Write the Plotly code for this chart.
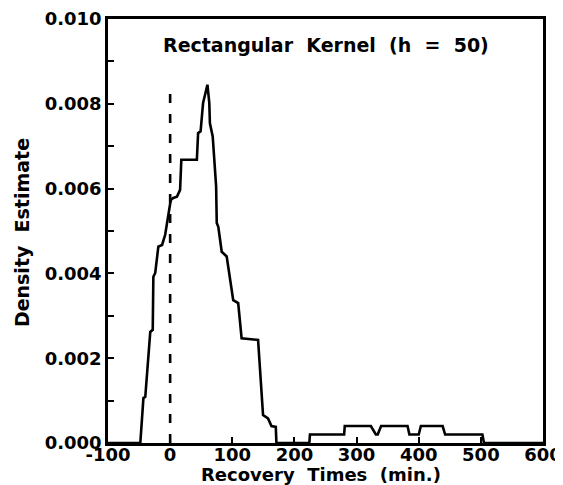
import plotly.graph_objects as go

# Density estimate (recovery time in minutes, density)
recovery_x = [-100, -48, -43, -40, -32, -28, -27, -24, -19, -13, -8, -5, -1, 1, 5, 11,
              16, 18, 43, 45, 49, 51, 53, 60, 63, 64, 68.5, 74, 75, 77.5, 83, 91, 96,
              101.5, 109.5, 115, 141.5, 144, 149.5, 157.5, 163, 170, 171,
              224, 225, 280, 281, 323, 331, 334, 339.5, 382, 385, 400, 403.5,
              438.5, 442.5, 502.5, 505, 600]
density_y = [0, 0, 0.00106, 0.00109, 0.00262, 0.00267, 0.00392, 0.00401, 0.00463,
             0.00467, 0.00491, 0.00519, 0.00546, 0.00573, 0.00578, 0.00581,
             0.00597, 0.00668, 0.00668, 0.00731, 0.00735, 0.00778, 0.00802, 0.00845,
             0.00802, 0.00754, 0.00723, 0.00605, 0.00519, 0.0051, 0.00451, 0.0044,
             0.00392, 0.00337, 0.0033, 0.00247, 0.00243, 0.0018, 0.00066, 0.00058,
             0.0004, 0.00038, 0,
             0, 0.0002, 0.0002, 0.0004, 0.0004, 0.0002, 0.0002, 0.0004, 0.0004,
             0.0002, 0.0002, 0.0004, 0.0004, 0.0002, 0.0002, 0, 0]

ref_x = [0, 0]
ref_y = [0, 0.0083]

x_ticks = [-100, 0, 100, 200, 300, 400, 500, 600]
x_tick_labels = ["-100", "0", "100", "200", "300", "400", "500", "600"]
y_ticks = [0.000, 0.002, 0.004, 0.006, 0.008, 0.010]
y_tick_labels = ["0.000", "0.002", "0.004", "0.006", "0.008", "0.010"]

title_text = "Rectangular  Kernel  (h  =  50)"
x_title = "Recovery  Times  (min.)"
y_title = "Density  Estimate"

FONT = "DejaVu Sans"

fig = go.Figure()
fig.add_trace(go.Scatter(x=recovery_x, y=density_y, mode="lines",
                         line=dict(color="black", width=2.6), showlegend=False,
                         hoverinfo="skip"))
fig.add_trace(go.Scatter(x=ref_x, y=ref_y, mode="lines",
                         line=dict(color="black", width=2.6, dash="9px,11px"),
                         showlegend=False, hoverinfo="skip"))

fig.add_annotation(x=0.5, y=0.939, xref="paper", yref="paper", text=title_text,
                   showarrow=False, xanchor="center", yanchor="middle",
                   font=dict(family=FONT, size=19, color="black", weight="bold"))
fig.add_annotation(x=0.49, y=0, xref="paper", yref="paper", text=x_title,
                   showarrow=False, xanchor="center", yanchor="middle", yshift=-31,
                   font=dict(family=FONT, size=18, color="black", weight="bold"))
fig.add_annotation(x=0, y=0.495, xref="paper", yref="paper", text=y_title,
                   showarrow=False, xanchor="center", yanchor="middle", xshift=-86,
                   textangle=-90,
                   font=dict(family=FONT, size=19, color="black", weight="bold"))

# The page body adds an 8px offset, so the figure is 8px smaller and margins compensate.
fig.update_layout(
    width=555, height=477,
    margin=dict(l=100, r=20, t=11, b=42),
    paper_bgcolor="white", plot_bgcolor="white",
    font=dict(family=FONT, size=17, color="black", weight="bold"),
    xaxis=dict(range=[-100, 600], tickvals=x_ticks, ticktext=x_tick_labels,
               ticks="inside", ticklen=6, tickwidth=2, tickcolor="black",
               ticklabelstandoff=-6,
               showline=True, linecolor="black", linewidth=2.5, mirror=True,
               showgrid=False, zeroline=False, automargin=False,
               tickfont=dict(family=FONT, size=18, weight="bold")),
    yaxis=dict(range=[0, 0.010], tickvals=y_ticks, ticktext=y_tick_labels,
               ticks="inside", ticklen=6, tickwidth=2, tickcolor="black",
               minor=dict(dtick=0.001, ticks="inside", ticklen=6, tickwidth=2,
                          tickcolor="black"),
               showline=True, linecolor="black", linewidth=2.5, mirror=True,
               showgrid=False, zeroline=False, automargin=False,
               tickfont=dict(family=FONT, size=18, weight="bold")),
)

fig.write_html("out.html")
